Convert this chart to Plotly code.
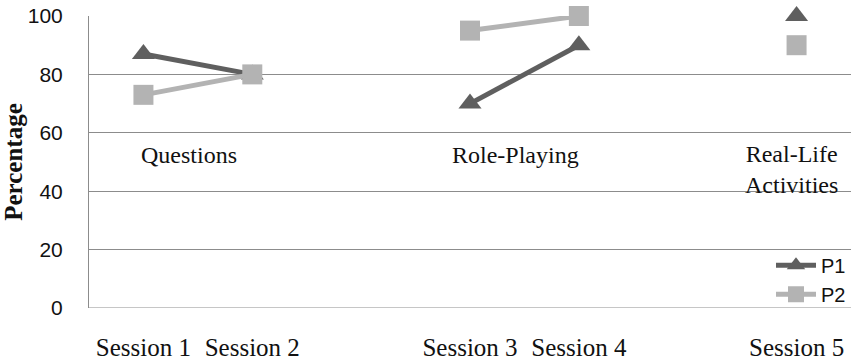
import plotly.graph_objects as go

sessions = ["Session 1", "Session 2", " ", "Session 3", "Session 4", "  ", "Session 5"]
p1 = [87, 80, None, 70, 90, None, 100]
p2 = [73, 80, None, 95, 100, None, 90]
y_ticks = [0, 20, 40, 60, 80, 100]

activity_labels = [("Questions", 0.42, 52.4), ("Role-Playing", 3.42, 52.4), ("Real-Life<br>Activities", 5.95, 47.6)]

fig = go.Figure()
fig.add_trace(go.Scatter(
    x=sessions, y=p1, name="P1", mode="lines+markers",
    line=dict(color="#5f5f5f", width=5),
    marker=dict(symbol="triangle-up", size=20, color="#5f5f5f"),
    cliponaxis=False, connectgaps=False,
))
fig.add_trace(go.Scatter(
    x=sessions, y=p2, name="P2", mode="lines+markers",
    line=dict(color="#b3b3b3", width=5),
    marker=dict(symbol="square", size=20, color="#b3b3b3"),
    cliponaxis=False, connectgaps=False,
))

for text, xpos, ypos in activity_labels:
    fig.add_annotation(
        x=xpos, y=ypos, xref="x", yref="y", text=text, showarrow=False,
        font=dict(family="Liberation Serif", size=24, color="#111111"),
        align="center",
    )

fig.update_layout(
    width=851, height=362,
    margin=dict(l=89, r=0, t=16, b=54),
    paper_bgcolor="white", plot_bgcolor="white",
    showlegend=True,
    legend=dict(
        x=1, y=-0.02, xanchor="right", yanchor="bottom",
        bgcolor="rgba(0,0,0,0)",
        font=dict(family="Liberation Sans", size=20, color="#111111"),
        tracegroupgap=0, itemwidth=40,
    ),
    xaxis=dict(
        type="category", categoryorder="array", categoryarray=sessions,
        range=[-0.5, 6.5], automargin=False,
        showgrid=False, zeroline=False, showline=False,
        ticks="outside", ticklen=17, tickcolor="rgba(0,0,0,0)",
        tickfont=dict(family="Liberation Serif", size=25, color="#111111"),
    ),
    yaxis=dict(
        range=[0, 100], tickvals=y_ticks, automargin=False,
        showgrid=True, gridcolor="#8c8c8c", gridwidth=1,
        zeroline=False, showline=True, linecolor="#8c8c8c", linewidth=1,
        ticks="outside", ticklen=21, tickcolor="rgba(0,0,0,0)",
        tickfont=dict(family="Liberation Sans", size=21, color="#111111"),
        title=dict(text="<b>Percentage</b>", standoff=2,
                   font=dict(family="Liberation Serif", size=25, color="#111111")),
    ),
)
fig.add_shape(type="line", xref="paper", yref="y", x0=0, x1=1, y0=0, y1=0,
              line=dict(color="#8c8c8c", width=1))

fig.write_html("out.html")
